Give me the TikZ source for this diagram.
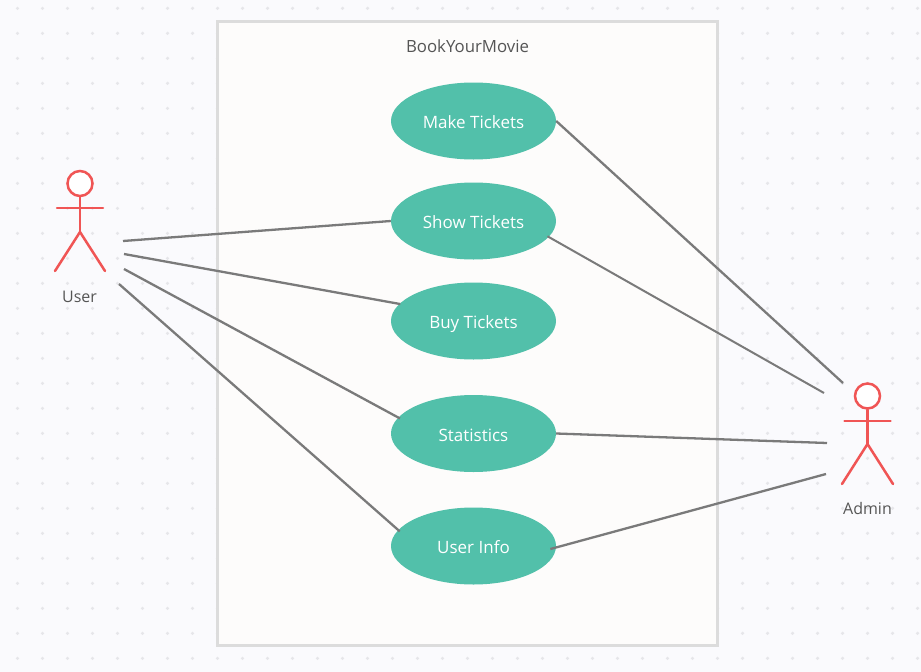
\documentclass[tikz,border=0pt]{standalone}
\usepackage{fontspec}
\setmainfont{Open Sans}
\usetikzlibrary{shapes.geometric}
\definecolor{paper}{HTML}{FAFAFD}
\definecolor{dotgrey}{HTML}{E6E6EA}
\definecolor{boxfill}{HTML}{FDFCFB}
\definecolor{boxline}{HTML}{DCDCDC}
\definecolor{teal}{HTML}{52C0AA}
\definecolor{actorred}{HTML}{F05555}
\definecolor{linkgrey}{HTML}{7A7A7A}
\definecolor{textgrey}{HTML}{555555}
\tikzset{
  usecase/.style={ellipse, fill=teal, text=white, inner sep=0pt, minimum width=165pt, minimum height=77pt, text height=15.4pt, text depth=0pt, font=\fontsize{17}{20}\selectfont},
  head/.style={circle, draw=actorred, fill=white, line width=2.5pt, inner sep=0pt, minimum size=25pt},
  limb/.style={draw=actorred, line width=2.5pt, line cap=round},
  link/.style={draw=linkgrey, line width=2.3pt},
  caption/.style={text=textgrey, inner sep=0pt, font=\fontsize{16}{20}\selectfont}
}
\begin{document}
\begin{tikzpicture}[x=1pt,y=-1pt]
\useasboundingbox (0,0) rectangle (921,672);
\fill [paper] (0,0) rectangle (921,672);
% Dots
\foreach \i in {0,...,36}
  \foreach \j in {0,...,26}
    \fill [dotgrey] (17.5+25*\i,8.3+25*\j) circle (1.8pt);
% System
\draw [boxline, fill=boxfill, line width=3pt] (217.5,21) rectangle (717.5,645);
\node [caption, font=\fontsize{16.8}{20}\selectfont] (title) at (467.5,46) {BookYourMovie};
% Casos
\node [usecase] (make) at (473.5,121) {Make Tickets};
\node [usecase] (show) at (473.5,221) {Show Tickets};
\node [usecase] (buy)  at (473.5,321) {Buy Tickets};
\node [usecase] (stat) at (473.5,433.5) {Statistics};
\node [usecase] (info) at (473.5,546) {User Info};
% ---
% User
% ---
\node [head] (userhead) at (80,183.5) {};
\coordinate (userhip) at (80,232);
\coordinate (userarml) at (57,208);
\coordinate (userarmr) at (103,208);
\coordinate (userlegl) at (55,271);
\coordinate (userlegr) at (105,271);
\draw [limb] (userhead) -- (userhip);
\draw [limb] (userarml) -- (userarmr);
\draw [limb] (userlegl) -- (userhip) -- (userlegr);
\node [caption] (user) at (79.5,296.5) {User};
% ---
% Admin
% ---
\node [head] (adminhead) at (867.5,396) {};
\coordinate (adminhip) at (867.5,444);
\coordinate (adminarml) at (844.5,421);
\coordinate (adminarmr) at (890.5,421);
\coordinate (adminlegl) at (842,484);
\coordinate (adminlegr) at (893,484);
\draw [limb] (adminhead) -- (adminhip);
\draw [limb] (adminarml) -- (adminarmr);
\draw [limb] (adminlegl) -- (adminhip) -- (adminlegr);
\node [caption] (admin) at (867.5,508.5) {Admin};
% Ejes
\coordinate (ua) at (123,241);
\coordinate (ub) at (124,254);
\coordinate (uc) at (124,269);
\coordinate (ud) at (119,284);
\coordinate (aa) at (843,383);
\coordinate (ab) at (824,393);
\coordinate (ac) at (827,443);
\coordinate (ad) at (826,474);
\draw [link] (ua) -- (show.west);
\draw [link, shorten >=-1pt] (ub) -- (buy.167);
\draw [link, shorten >=-2pt] (uc) -- (stat.168);
\draw [link, shorten >=-2pt] (ud) -- (info.168);
\draw [link] (aa) -- (make.east);
\draw [link, line width=2pt, shorten >=-1.5pt] (ab) -- (show.-12);
\draw [link] (ac) -- (stat.east);
\draw [link, shorten >=-6pt] (ad) -- (info.-1);
\end{tikzpicture}
\end{document}
